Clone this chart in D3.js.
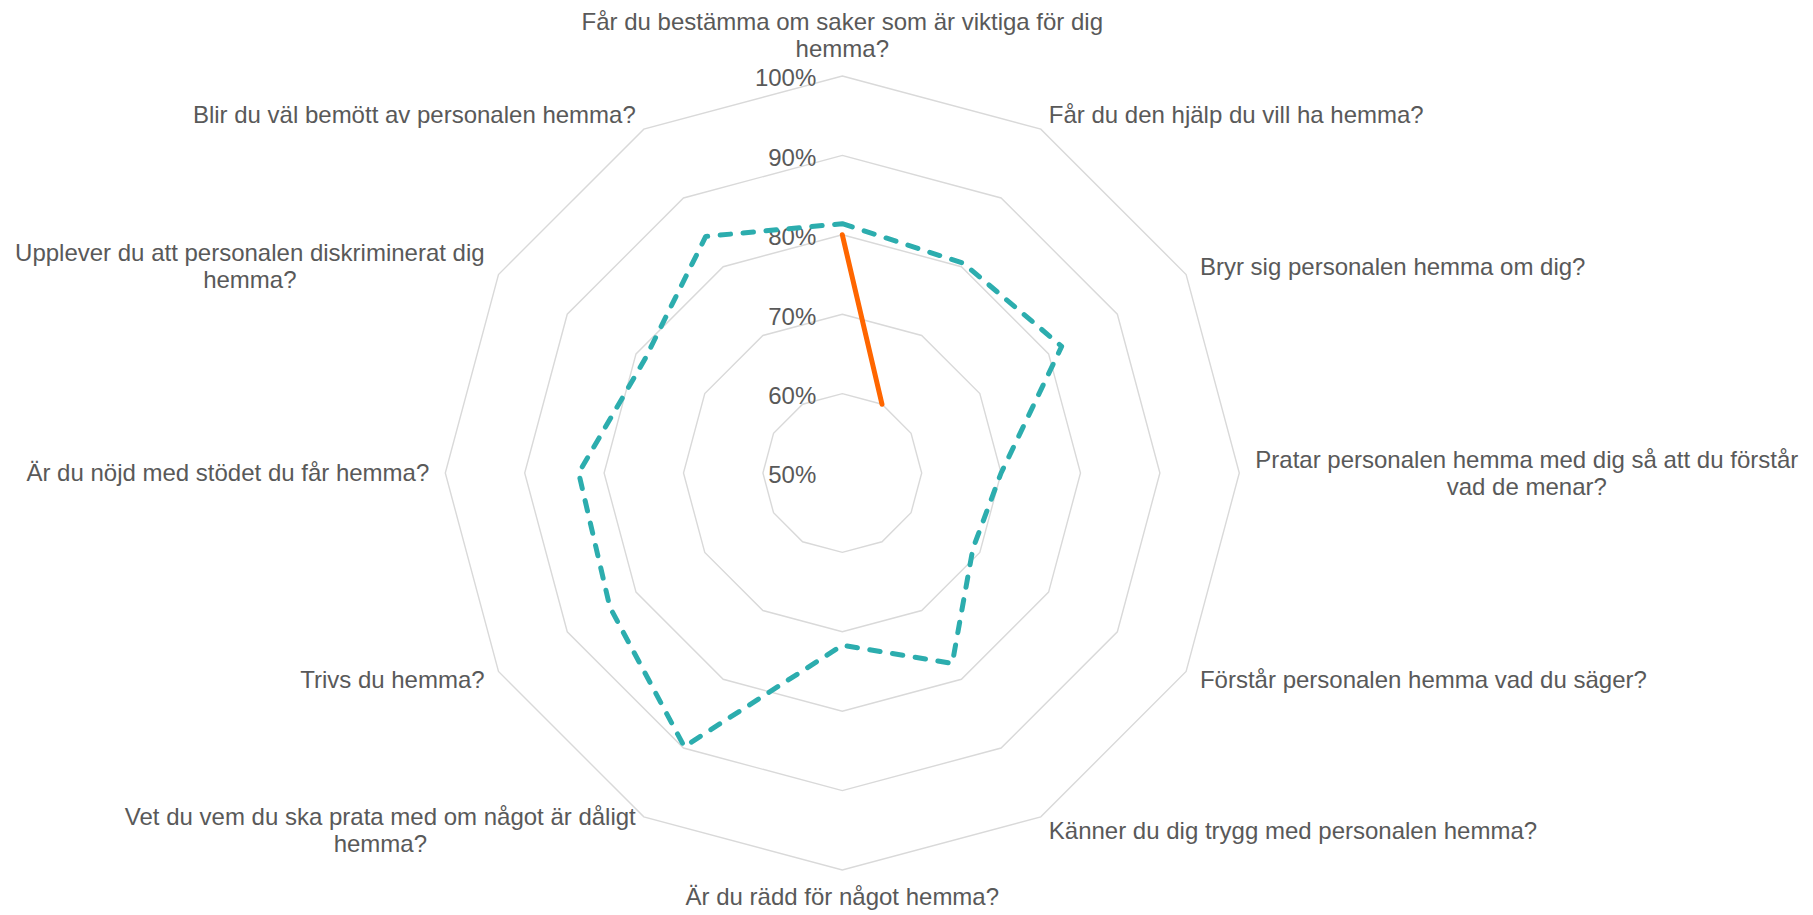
<!DOCTYPE html>
<html>
<head>
<meta charset="utf-8">
<script src="https://cdn.jsdelivr.net/npm/d3@7"></script>
<style>
  body { margin: 0; background: #ffffff; }
  svg text { font-family: "Liberation Sans", Arial, sans-serif; fill: #595959; }
</style>
</head>
<body>
<svg id="chart" width="1813" height="915"></svg>
<script>
// ---- data ----
const categories = [
  ["Får du bestämma om saker som är viktiga för dig", "hemma?"],
  ["Får du den hjälp du vill ha hemma?"],
  ["Bryr sig personalen hemma om dig?"],
  ["Pratar personalen hemma med dig så att du förstår", "vad de menar?"],
  ["Förstår personalen hemma vad du säger?"],
  ["Känner du dig trygg med personalen hemma?"],
  ["Är du rädd för något hemma?"],
  ["Vet du vem du ska prata med om något är dåligt", "hemma?"],
  ["Trivs du hemma?"],
  ["Är du nöjd med stödet du får hemma?"],
  ["Upplever du att personalen diskriminerat dig", "hemma?"],
  ["Blir du väl bemött av personalen hemma?"]
];
const seriesTeal = [81.4, 80.5, 81.9, 70.0, 69.0, 77.7, 71.7, 89.8, 83.8, 83.2, 78.7, 84.4];
const seriesOrange = [80, 60, null, null, null, null, null, null, null, null, null, null];
const tickValues = [50, 60, 70, 80, 90, 100];
const tickLabels = ["50%", "60%", "70%", "80%", "90%", "100%"];

// ---- layout ----
const svg = d3.select("#chart");
const cx = 842.3, cy = 473, R = 397;
const n = categories.length;
const rScale = d3.scaleLinear().domain([50, 100]).range([0, R]);
const aScale = d3.scaleLinear().domain([0, n]).range([0, 2 * Math.PI]);

const g = svg.append("g").attr("transform", `translate(${cx},${cy})`);

// grid rings
const ringLine = d3.lineRadial()
  .angle((d, i) => aScale(i))
  .radius(d => rScale(d))
  .curve(d3.curveLinearClosed);
g.selectAll("path.ring")
  .data(tickValues.filter(v => v > 50))
  .join("path")
  .attr("class", "ring")
  .attr("d", v => ringLine(d3.range(n).map(() => v)))
  .attr("fill", "none")
  .attr("stroke", "#d9d9d9")
  .attr("stroke-width", 1.4);

// tick labels
g.selectAll("text.tick")
  .data(tickValues)
  .join("text")
  .attr("class", "tick")
  .attr("x", -26)
  .attr("y", v => -rScale(v) + 2)
  .attr("dy", "0.35em")
  .attr("text-anchor", "end")
  .attr("font-size", 24)
  .text((v, i) => tickLabels[i]);

// series
const seriesLine = d3.lineRadial()
  .defined(d => d != null)
  .angle((d, i) => aScale(i))
  .radius(d => rScale(d));

g.append("path")
  .attr("d", seriesLine.curve(d3.curveLinearClosed)(seriesTeal))
  .attr("fill", "none")
  .attr("stroke", "#2cadae")
  .attr("stroke-width", 5)
  .attr("stroke-linecap", "round")
  .attr("stroke-linejoin", "round")
  .attr("stroke-dasharray", "10.5,12.5");

g.append("path")
  .attr("d", seriesLine.curve(d3.curveLinear)(seriesOrange))
  .attr("fill", "none")
  .attr("stroke", "#ff6600")
  .attr("stroke-width", 5)
  .attr("stroke-linecap", "round")
  .attr("stroke-linejoin", "round");

// category labels
const lh = 27, pad = 16;
categories.forEach((lines, i) => {
  const a = aScale(i);
  const sx = Math.sin(a), sy = -Math.cos(a);
  const ax = (R + pad) * sx, ay = (R + pad) * sy;
  const t = g.append("text").attr("font-size", 24).attr("text-anchor", "middle");
  const spans = lines.map(l => t.append("tspan").text(l));
  const W = d3.max(spans.map(s => s.node().getComputedTextLength()));
  let bx;
  if (Math.abs(sx) < 0.01) bx = ax;
  else if (sx > 0) bx = ax + W / 2;
  else bx = ax - W / 2;
  let firstBase;
  const k = lines.length;
  if (Math.abs(sx) < 0.01 && sy < 0) firstBase = ay - 3 - (k - 1) * lh;
  else if (Math.abs(sx) < 0.01 && sy > 0) firstBase = ay + 19;
  else firstBase = ay - (k - 1) * lh / 2 + 8;
  spans.forEach((s, j) => s.attr("x", bx).attr("y", firstBase + j * lh));
});
</script>
</body>
</html>
